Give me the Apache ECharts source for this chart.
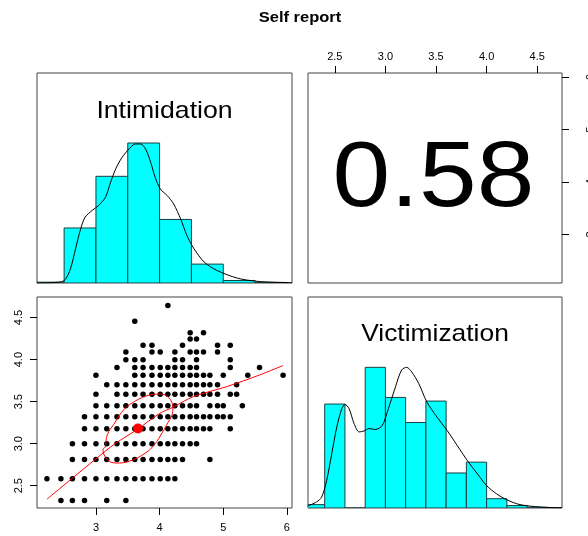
<!DOCTYPE html>
<html>
<head>
<meta charset="utf-8">
<title>Self report</title>
<script src="https://cdn.jsdelivr.net/npm/echarts@6/dist/echarts.min.js"></script>
<style>
html,body{margin:0;padding:0;background:#fff;}
#main{width:588px;height:536px;}
</style>
</head>
<body>
<div id="main"></div>
<script>
// axis ranges and ticks
var intimRange = [2.074, 6.08];
var victimRange = [2.235, 4.745];
var histRange = [0, 1.5];
var intimTicks = [3, 4, 5, 6];
var victimTicks = [2.5, 3.0, 3.5, 4.0, 4.5];
var correlation = '0.58';

// Intimidation histogram (scaled so the tallest bar = 1) and density
var intimBreaks = [2.0, 2.5, 3.0, 3.5, 4.0, 4.5, 5.0, 5.5, 6.0];
var intimHeights = [0.006, 0.393, 0.762, 1.0, 0.454, 0.135, 0.018, 0.004];
var intimDensX = [2.07, 2.44, 2.52, 2.60, 2.68, 2.76, 2.83, 2.94, 3.04, 3.15, 3.23, 3.31, 3.41, 3.52, 3.62, 3.70, 3.78, 3.86, 3.93, 4.01, 4.12, 4.22, 4.33, 4.43, 4.54, 4.70, 4.90, 5.22, 5.53, 6.08];
var intimDensY = [0.0, 0.007, 0.026, 0.102, 0.245, 0.387, 0.470, 0.518, 0.553, 0.613, 0.719, 0.815, 0.897, 0.957, 0.993, 0.993, 0.957, 0.862, 0.755, 0.672, 0.624, 0.565, 0.458, 0.339, 0.245, 0.150, 0.090, 0.035, 0.012, 0.002];

// Victimization histogram and density
var victimBreaks = [2.2, 2.4, 2.6, 2.8, 3.0, 3.2, 3.4, 3.6, 3.8, 4.0, 4.2, 4.4, 4.6, 4.8];
var victimHeights = [0.024, 0.739, 0, 1.0, 0.786, 0.608, 0.760, 0.249, 0.326, 0.066, 0.017, 0.005, 0.002];
var victimDensX = [2.23, 2.32, 2.37, 2.42, 2.47, 2.52, 2.57, 2.60, 2.64, 2.69, 2.74, 2.79, 2.84, 2.90, 2.97, 3.03, 3.10, 3.16, 3.21, 3.26, 3.33, 3.41, 3.51, 3.61, 3.71, 3.81, 3.91, 4.00, 4.10, 4.20, 4.33, 4.53, 4.745];
var victimDensY = [0.014, 0.043, 0.078, 0.197, 0.387, 0.577, 0.708, 0.736, 0.708, 0.601, 0.541, 0.548, 0.565, 0.558, 0.588, 0.708, 0.862, 0.981, 1.0, 0.967, 0.884, 0.753, 0.646, 0.551, 0.444, 0.337, 0.242, 0.159, 0.10, 0.058, 0.024, 0.007, 0.001];

// scatter: each Victimization level with the Intimidation scores seen on it
var victimLevels = [4.643, 4.456, 4.32, 4.246, 4.17, 4.09, 4.0, 3.905, 3.813, 3.702, 3.587, 3.452, 3.32, 3.179, 3.0, 2.813, 2.583, 2.325];
var intimByLevel = [
	[4.13],
	[3.61],
	[4.48, 4.69],
	[4.48, 4.58],
	[3.74, 3.88, 4.36, 4.91, 5.11],
	[3.47, 3.88, 4.01, 4.24, 4.48, 4.58, 4.69, 4.91],
	[3.47, 3.61, 3.74, 4.24, 4.36, 4.58, 5.11],
	[3.33, 3.61, 3.74, 3.88, 4.01, 4.13, 4.24, 4.36, 4.48, 4.58, 5.11, 5.57],
	[3.0, 3.61, 3.74, 3.88, 4.01, 4.13, 4.24, 4.36, 4.48, 4.58, 4.69, 4.79, 5.0, 5.385, 5.94],
	[3.17, 3.33, 3.47, 3.61, 3.74, 3.88, 4.01, 4.13, 4.24, 4.36, 4.48, 4.58, 4.69, 4.79, 4.91, 5.21],
	[3.0, 3.33, 3.47, 3.61, 3.74, 3.88, 4.01, 4.13, 4.24, 4.36, 4.48, 4.58, 4.69, 4.79, 4.91, 5.11, 5.21],
	[3.0, 3.17, 3.33, 3.47, 3.61, 3.74, 3.88, 4.01, 4.13, 4.24, 4.36, 4.48, 4.58, 4.79, 4.91, 5.0, 5.30],
	[2.82, 3.0, 3.17, 3.33, 3.47, 3.61, 3.74, 3.88, 4.01, 4.13, 4.24, 4.36, 4.48, 4.58, 4.69, 4.79, 4.91, 5.0, 5.11],
	[2.82, 3.0, 3.17, 3.33, 3.47, 3.61, 3.74, 3.88, 4.01, 4.13, 4.24, 4.36, 4.48, 4.58, 4.69, 4.79, 5.11],
	[2.63, 2.82, 3.0, 3.17, 3.33, 3.47, 3.61, 3.74, 3.88, 4.01, 4.13, 4.24, 4.36, 4.48, 4.58],
	[2.63, 2.82, 3.0, 3.17, 3.33, 3.47, 3.61, 3.74, 3.88, 4.01, 4.13, 4.24, 4.36, 4.79],
	[2.23, 2.45, 2.63, 2.82, 3.0, 3.17, 3.33, 3.47, 3.61, 3.74, 3.88, 4.01, 4.13, 4.24],
	[2.45, 2.63, 2.82, 3.17, 3.47]
];

// mean, loess smooth and correlation ellipse
var meanPoint = [3.66, 3.18];
var lowessX = [2.23, 2.63, 3.0, 3.3, 3.65, 4.0, 4.2, 4.53, 5.06, 5.58, 5.94];
var lowessY = [2.34, 2.59, 2.82, 3.0, 3.17, 3.36, 3.43, 3.56, 3.68, 3.82, 3.93];
var ellipseX = [3.15, 3.18, 3.28, 3.40, 3.54, 3.80, 4.01, 4.14, 4.21, 4.19, 4.13, 4.04, 3.92, 3.78, 3.52, 3.31, 3.18, 3.11, 3.15];
var ellipseY = [2.96, 3.11, 3.23, 3.37, 3.47, 3.57, 3.59, 3.55, 3.43, 3.33, 3.25, 3.13, 2.99, 2.89, 2.79, 2.77, 2.81, 2.93, 2.96];

var FONT = '"Liberation Sans", Arial, sans-serif';

function zip(xs, ys){
	var out = [];
	for(var i=0;i<xs.length;i++){
		out.push([xs[i], ys[i]]);
	}
	return out;
}

function bins(breaks, heights){
	var out = [];
	for(var i=0;i<heights.length;i++){
		out.push([breaks[i], breaks[i+1], heights[i]]);
	}
	return out;
}

function renderBar(params, api){
	var p0 = api.coord([api.value(0), 0]);
	var p1 = api.coord([api.value(1), api.value(2)]);
	return {
		type: 'rect',
		shape: {x: p0[0], y: p1[1], width: p1[0]-p0[0], height: p0[1]-p1[1]},
		style: {fill: '#00FFFF', stroke: '#1a3f3f', lineWidth: 1}
	};
}

function tickAxis(idx, pos, range, ticks, fmt, extra){
	var ax = {
		gridIndex: idx, type: 'value', position: pos,
		min: range[0], max: range[1],
		splitLine: {show: false},
		axisLine: {show: false},
		axisTick: {show: true, length: 7, customValues: ticks, lineStyle: {color: '#000'}},
		axisLabel: {show: true, customValues: ticks, color: '#000', fontFamily: FONT, fontSize: 11,
			formatter: function(v){ return fmt(v); }}
	};
	for(var k in extra){ ax.axisLabel[k] = extra[k]; }
	return ax;
}

function hiddenAxis(idx, range){
	return {gridIndex: idx, type: 'value', min: range[0], max: range[1], show: false};
}

// panel box, fixed in pixels (labels may run off the page like in the original)
function panel(left, top, width, height){
	return {left: left, top: top, width: width, height: height, outerBoundsMode: 'none', containLabel: false,
		show: true, borderColor: '#444', borderWidth: 1};
}

var scatterData = [];
for(var r=0;r<victimLevels.length;r++){
	for(var c=0;c<intimByLevel[r].length;c++){
		scatterData.push([intimByLevel[r][c], victimLevels[r]]);
	}
}

function oneDec(v){ return Number(v).toFixed(1); }
function whole(v){ return String(Math.round(v)); }

var myChart = echarts.init(document.getElementById('main'));
var option = {
	animation: false,
	backgroundColor: '#fff',
	grid: [
		panel(37, 73, 255, 210),
		panel(308, 73, 254, 210),
		panel(37, 297, 255, 211),
		panel(308, 297, 254, 211)
	],
	xAxis: [
		hiddenAxis(0, intimRange),
		tickAxis(1, 'top', victimRange, victimTicks, oneDec, {margin: 11}),
		tickAxis(2, 'bottom', intimRange, intimTicks, whole, {margin: 14}),
		hiddenAxis(3, victimRange)
	],
	yAxis: [
		hiddenAxis(0, histRange),
		tickAxis(1, 'right', intimRange, intimTicks, whole, {margin: 23, rotate: 90}),
		tickAxis(2, 'left', victimRange, victimTicks, oneDec, {margin: 13, rotate: 90}),
		hiddenAxis(3, histRange)
	],
	graphic: [
		{type: 'text', x: 300, y: 18, scaleX: 1.1,
			style: {text: 'Self report', font: 'bold 15px ' + FONT, fill: '#000', textAlign: 'center', textVerticalAlign: 'middle'}},
		{type: 'text', x: 164.5, y: 111.5, scaleX: 1.11,
			style: {text: 'Intimidation', font: '24px ' + FONT, fill: '#000', textAlign: 'center', textVerticalAlign: 'middle'}},
		{type: 'text', x: 435, y: 334.5, scaleX: 1.1,
			style: {text: 'Victimization', font: '24px ' + FONT, fill: '#000', textAlign: 'center', textVerticalAlign: 'middle'}},
		{type: 'text', x: 433.5, y: 180.5, scaleX: 1.115,
			style: {text: correlation, font: '93px ' + FONT, fill: '#000', textAlign: 'center', textVerticalAlign: 'middle'}}
	],
	series: [
		{type: 'custom', xAxisIndex: 0, yAxisIndex: 0, clip: true, renderItem: renderBar,
			encode: {x: [0, 1], y: 2}, data: bins(intimBreaks, intimHeights)},
		{type: 'line', xAxisIndex: 0, yAxisIndex: 0, showSymbol: false, smooth: 0.3,
			lineStyle: {color: '#000', width: 1}, data: zip(intimDensX, intimDensY)},
		{type: 'scatter', xAxisIndex: 1, yAxisIndex: 1, data: []},
		{type: 'scatter', xAxisIndex: 2, yAxisIndex: 2, symbolSize: 5.5,
			itemStyle: {color: '#000', opacity: 1}, data: scatterData},
		{type: 'line', xAxisIndex: 2, yAxisIndex: 2, showSymbol: false, smooth: 0.3,
			lineStyle: {color: '#FF0000', width: 1}, data: zip(lowessX, lowessY)},
		{type: 'line', xAxisIndex: 2, yAxisIndex: 2, showSymbol: false, smooth: 0.4,
			lineStyle: {color: '#FF0000', width: 1}, data: zip(ellipseX, ellipseY)},
		{type: 'scatter', xAxisIndex: 2, yAxisIndex: 2, symbolSize: 10,
			itemStyle: {color: '#FF0000', opacity: 1}, data: [meanPoint]},
		{type: 'custom', xAxisIndex: 3, yAxisIndex: 3, clip: true, renderItem: renderBar,
			encode: {x: [0, 1], y: 2}, data: bins(victimBreaks, victimHeights)},
		{type: 'line', xAxisIndex: 3, yAxisIndex: 3, showSymbol: false, smooth: 0.3,
			lineStyle: {color: '#000', width: 1}, data: zip(victimDensX, victimDensY)}
	]
};
myChart.setOption(option);
</script>
</body>
</html>
